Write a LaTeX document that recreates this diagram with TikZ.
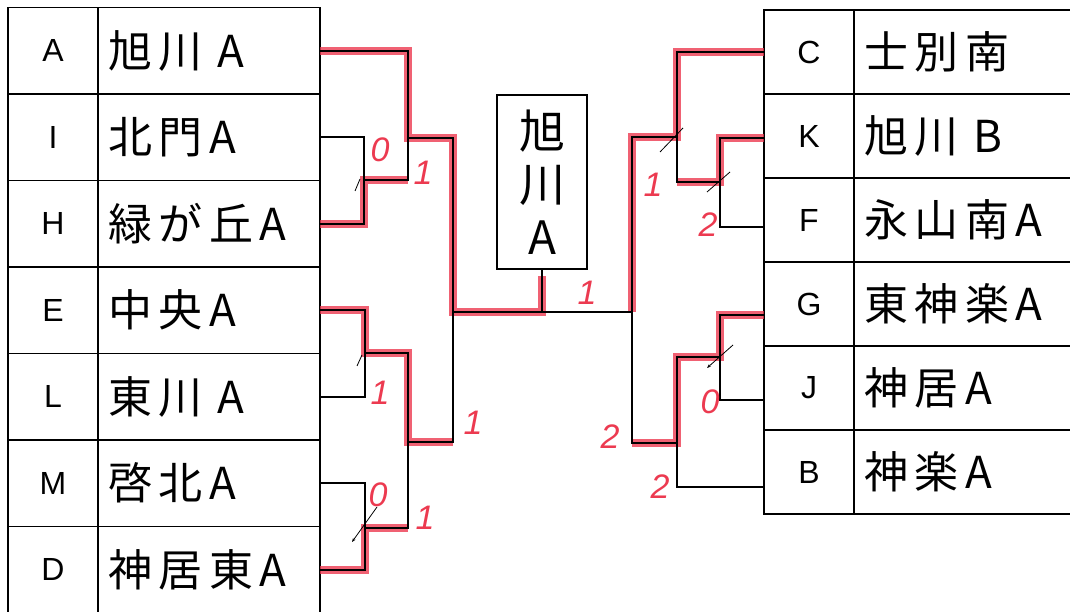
\documentclass[tikz,border=0pt]{standalone}
\usepackage{fontspec}
\setmainfont{Liberation Sans}
\newfontfamily\jp[LetterSpace=15]{Noto Sans CJK JP}
\newcommand\tagsize{\fontsize{32}{34}\selectfont}
\usetikzlibrary{positioning,arrows.meta}
\definecolor{hl}{RGB}{236,58,80}

\begin{document}
\begin{tikzpicture}[x=1pt, y=-1pt,
        cell/.style={draw, line width=1.5pt, outer sep=0pt, inner sep=0pt, minimum height=86.5pt},
        tagcell/.style={cell, minimum width=90pt, font=\tagsize},
        team/.style={cell, text width=202pt, inner xsep=10pt, align=left, font=\jp\fontsize{44}{48}\selectfont},
        bk/.style={line width=1.6pt},
        win/.style={line width=8pt, hl, opacity=0.8},
        score/.style={text=hl, font=\fontsize{34}{34}\selectfont\itshape},
        tick/.style={line width=0.8pt}]
        \useasboundingbox (0,0) rectangle (1070,612);

        %% Left table
        \node[tagcell, anchor=north west] (lA) at (8,7.5) {A};
        \node[team, right=0pt of lA] (nA) {旭川 A};
        \node[tagcell, below=0pt of lA] (lI) {I};
        \node[team, right=0pt of lI] (nI) {北門A};
        \node[tagcell, below=0pt of lI] (lH) {H};
        \node[team, right=0pt of lH] (nH) {緑が丘A};
        \node[tagcell, below=0pt of lH] (lE) {E};
        \node[team, right=0pt of lE] (nE) {中央A};
        \node[tagcell, below=0pt of lE] (lL) {L};
        \node[team, right=0pt of lL] (nL) {東川 A};
        \node[tagcell, below=0pt of lL] (lM) {M};
        \node[team, right=0pt of lM] (nM) {啓北A};
        \node[tagcell, below=0pt of lM] (lD) {D};
        \node[team, right=0pt of lD] (nD) {神居東A};

        %% Right table
        \begin{scope}[cell/.append style={minimum height=84pt}]
            \node[tagcell, anchor=north west] (lC) at (764,10) {C};
            \node[team, right=0pt of lC] (nC) {士別南};
            \node[tagcell, below=0pt of lC] (lK) {K};
            \node[team, right=0pt of lK] (nK) {旭川 B};
            \node[tagcell, below=0pt of lK] (lF) {F};
            \node[team, right=0pt of lF] (nF) {永山南A};
            \node[tagcell, below=0pt of lF] (lG) {G};
            \node[team, right=0pt of lG] (nG) {東神楽A};
            \node[tagcell, below=0pt of lG] (lJ) {J};
            \node[team, right=0pt of lJ] (nJ) {神居A};
            \node[tagcell, below=0pt of lJ] (lB) {B};
            \node[team, right=0pt of lB] (nB) {神楽A};
        \end{scope}

        %% Champion
        \node[draw, line width=1.5pt, minimum width=90pt, minimum height=174pt, align=center,
              font=\jp\fontsize{46}{53}\selectfont] (champ) at (542,182) {旭\\川\\A};

        %% Bracket joints
        \coordinate (qIH) at (364,180);
        \coordinate (sAIH) at (408,138);
        \coordinate (qEL) at (365,353);
        \coordinate (qMD) at (365,528);
        \coordinate (sELMD) at (408,442);
        \coordinate (fL) at (453,312);
        \coordinate (fR) at (632,312);
        \coordinate (qKF) at (720,182);
        \coordinate (sCKF) at (677,137);
        \coordinate (qGJ) at (720,357);
        \coordinate (sGJB) at (677,443);

        %% Winners
        \draw[win] (nA.east) -| (sAIH) -| (fL) -- (fL -| champ.south) -- ([yshift=-6pt]champ.south);
        \draw[win] (nH.east) -| (qIH) -- (qIH -| sAIH);
        \draw[win] (nE.east) -| (qEL) -| (sELMD) -- (sELMD -| fL);
        \draw[win] (nD.east) -| (qMD) -- (qMD -| sELMD);
        \draw[win] (lC.west) -| (sCKF) -| (fR);
        \draw[win] ([yshift=-2pt]lK.west) -| (qKF) -- (qKF -| sCKF);
        \draw[win] ([yshift=-11pt]lG.west) -| (qGJ) -| (sGJB) -- (sGJB -| fR);

        %% Bracket lines
        \draw[bk] (nI.east) -| (qIH) |- (nH.east);
        \draw[bk] (nA.east) -| (sAIH) |- (qIH);
        \draw[bk] (nE.east) -| (qEL) |- (nL.east);
        \draw[bk] (nM.east) -| (qMD) |- (nD.east);
        \draw[bk] (qEL) -| (sELMD) |- (qMD);
        \draw[bk] (sAIH) -| (fL) |- (sELMD);
        \draw[bk] (fL) -- (fR);
        \draw[bk] (champ.south) -- (champ.south |- fL);
        \draw[bk] ([yshift=-2pt]lK.west) -| (qKF) |- ([yshift=-7pt]lF.west);
        \draw[bk] ([yshift=-11pt]lG.west) -| (qGJ) |- ([yshift=-12pt]lJ.west);
        \draw[bk] (lC.west) -| (sCKF) |- (qKF);
        \draw[bk] (qGJ) -| (sGJB) |- ([yshift=-15pt]lB.west);
        \draw[bk] (sCKF) -| (fR) |- (sGJB);

        %% Pen marks
        \draw[tick] (qIH) ++(-4,-1) -- ++(-5,12);
        \draw[tick] (qEL) ++(-3,2) -- ++(-5,11);
        \draw[tick, -{Stealth[length=4pt]}] (qMD) ++(12,-21) -- ++(-25,35);
        \draw[tick] (sCKF) ++(6,-9) -- ++(-23,24);
        \draw[tick] (qKF) ++(10,-10) -- ++(-23,20);
        \draw[tick, -{Stealth[length=4pt]}] (qGJ) ++(13,-12) -- ++(-26,23);

        %% Scores
        \node[score] (sc1) at (380,150) {0};
        \node[score] (sc2) at (423,173) {1};
        \node[score] (sc3) at (380,393) {1};
        \node[score] (sc4) at (473,423) {1};
        \node[score] (sc5) at (378,495) {0};
        \node[score] (sc6) at (425,518) {1};
        \node[score] (sc7) at (587,293) {1};
        \node[score] (sc8) at (653,185) {1};
        \node[score] (sc9) at (708,225) {2};
        \node[score] (sc10) at (710,402) {0};
        \node[score] (sc11) at (610,437) {2};
        \node[score] (sc12) at (660,487) {2};
\end{tikzpicture}
\end{document}
